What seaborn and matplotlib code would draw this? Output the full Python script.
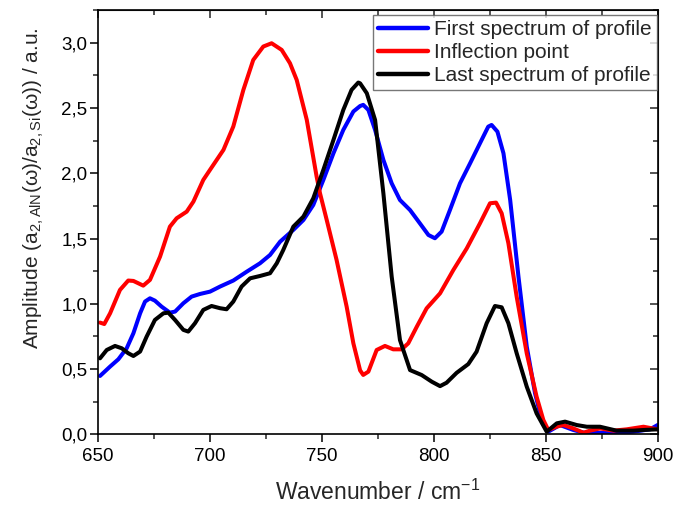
import numpy as np
import pandas as pd
import seaborn as sns
import matplotlib
matplotlib.use("Agg")
import matplotlib.pyplot as plt
from matplotlib.ticker import MultipleLocator, FuncFormatter

# ---- data ----
first_x = [650.9, 655.4, 659.1, 662.8, 665.8, 668.8, 671.0, 673.2, 675.4, 678.4, 682.1, 684.4,
           688.1, 691.8, 695.5, 700.0, 704.5, 710.4, 716.4, 722.3, 726.8, 731.3, 737.2, 741.7,
           746.1, 750.6, 755.1, 759.5, 764.0, 767.0, 768.4, 770.7, 773.7, 777.4, 781.1, 784.8,
           789.3, 793.7, 797.5, 800.4, 803.4, 807.1, 811.6, 816.1, 820.5, 824.2, 825.7, 828.3,
           831.0, 834.0, 837.7, 841.4, 845.1, 848.5, 851.0, 856.2, 862.2, 868.2, 874.1, 881.5,
           889.0, 896.4, 899.8]
first_y = [0.447, 0.519, 0.575, 0.659, 0.774, 0.927, 1.017, 1.042, 1.024, 0.978, 0.932, 0.940,
           1.004, 1.055, 1.075, 1.093, 1.132, 1.178, 1.246, 1.310, 1.374, 1.476, 1.566, 1.642,
           1.757, 1.949, 2.153, 2.332, 2.473, 2.515, 2.524, 2.485, 2.332, 2.102, 1.923, 1.795,
           1.718, 1.616, 1.527, 1.502, 1.553, 1.718, 1.923, 2.076, 2.229, 2.357, 2.370, 2.319,
           2.153, 1.795, 1.208, 0.672, 0.314, 0.084, 0.020, 0.071, 0.033, 0.007, 0.012, 0.007,
           0.020, 0.038, 0.071]

infl_x = [650.9, 652.8, 655.4, 659.8, 663.5, 665.8, 670.2, 673.2, 677.7, 682.1, 685.1, 689.6,
          692.6, 697.0, 700.0, 706.0, 710.4, 714.9, 719.3, 723.8, 727.5, 732.0, 735.7, 738.7,
          743.2, 747.6, 749.1, 752.1, 756.5, 761.0, 764.0, 767.0, 768.4, 770.7, 774.4, 778.1,
          781.8, 785.6, 788.5, 792.3, 796.7, 802.7, 808.6, 814.6, 820.5, 825.0, 827.7, 830.2,
          833.2, 836.9, 841.4, 845.8, 848.8, 851.0, 854.8, 857.7, 862.2, 866.7, 869.6, 874.1,
          880.1, 886.0, 893.5, 899.8]
infl_y = [0.856, 0.845, 0.927, 1.106, 1.178, 1.175, 1.139, 1.183, 1.361, 1.591, 1.655, 1.706,
          1.783, 1.949, 2.026, 2.179, 2.358, 2.639, 2.868, 2.971, 2.996, 2.945, 2.843, 2.715,
          2.409, 1.974, 1.847, 1.642, 1.336, 0.978, 0.697, 0.490, 0.455, 0.480, 0.646, 0.677,
          0.651, 0.651, 0.697, 0.824, 0.965, 1.080, 1.258, 1.424, 1.616, 1.770, 1.775, 1.693,
          1.464, 1.054, 0.620, 0.288, 0.110, 0.033, 0.059, 0.071, 0.045, 0.012, 0.028, 0.045,
          0.028, 0.038, 0.058, 0.038]

last_x = [650.9, 653.9, 657.6, 660.6, 663.5, 665.8, 668.8, 671.7, 675.4, 679.2, 681.4, 684.4,
          688.1, 690.3, 693.3, 697.0, 700.7, 704.5, 707.4, 710.4, 714.1, 717.9, 722.3, 726.8,
          729.8, 732.7, 737.2, 741.7, 746.1, 750.6, 755.1, 759.5, 763.2, 766.2, 767.0, 770.0,
          773.7, 777.4, 781.1, 784.8, 789.3, 794.5, 799.0, 802.7, 805.6, 810.1, 815.3, 819.0,
          823.5, 827.2, 830.2, 833.2, 836.9, 841.4, 845.8, 850.3, 854.8, 858.5, 863.7, 868.2,
          874.1, 881.5, 889.0, 893.5, 899.8]
last_y = [0.582, 0.646, 0.677, 0.659, 0.621, 0.600, 0.634, 0.748, 0.876, 0.927, 0.932, 0.876,
          0.800, 0.787, 0.851, 0.953, 0.983, 0.966, 0.958, 1.017, 1.132, 1.195, 1.213, 1.234,
          1.310, 1.412, 1.591, 1.668, 1.808, 2.026, 2.255, 2.485, 2.639, 2.695, 2.689, 2.613,
          2.408, 1.846, 1.208, 0.722, 0.492, 0.454, 0.403, 0.369, 0.395, 0.471, 0.538, 0.633,
          0.851, 0.983, 0.973, 0.851, 0.621, 0.365, 0.160, 0.020, 0.084, 0.097, 0.071, 0.058,
          0.058, 0.028, 0.028, 0.033, 0.038]

series_names = ["First spectrum of profile", "Inflection point", "Last spectrum of profile"]
series_colors = ["#0000ff", "#ff0000", "#000000"]
x_ticks = [650, 700, 750, 800, 850, 900]
y_ticks = [0.0, 0.5, 1.0, 1.5, 2.0, 2.5, 3.0]

df = pd.concat([
    pd.DataFrame({"x": first_x, "y": first_y, "series": series_names[0]}),
    pd.DataFrame({"x": infl_x, "y": infl_y, "series": series_names[1]}),
    pd.DataFrame({"x": last_x, "y": last_y, "series": series_names[2]}),
], ignore_index=True)

sns.set_style("ticks")
plt.rcParams["font.family"] = ["Liberation Sans", "DejaVu Sans"]
plt.rcParams["mathtext.fontset"] = "custom"
plt.rcParams["mathtext.rm"] = "Liberation Sans"
plt.rcParams["mathtext.it"] = "Liberation Sans:italic"

fig = plt.figure(figsize=(6.74, 5.05), dpi=100)
ax = fig.add_axes([0.1454, 0.14, 0.8309, 0.84])

sns.lineplot(data=df, x="x", y="y", hue="series", hue_order=series_names,
             palette=dict(zip(series_names, series_colors)), sort=False,
             linewidth=2.9, ax=ax, legend=True)

ax.set_xlim(650, 900)
ax.set_ylim(0, 3.25)
ax.set_xticks(x_ticks)
ax.set_yticks(y_ticks)
ax.xaxis.set_minor_locator(MultipleLocator(25))
ax.yaxis.set_minor_locator(MultipleLocator(0.25))
ax.yaxis.set_major_formatter(FuncFormatter(lambda v, p: f"{v:.1f}".replace(".", ",")))
ax.tick_params(which="major", direction="out", length=5.5, width=1.1, labelsize=13.5, colors="black")
ax.tick_params(which="minor", direction="out", length=3.3, width=1.1)
ax.tick_params(axis="x", which="major", pad=4.5)
ax.tick_params(axis="y", which="major", pad=2)

for s in ax.spines.values():
    s.set_linewidth(1.2)
    s.set_color("black")

# inward ticks on top and right
top = ax.secondary_xaxis("top")
top.set_xticks(x_ticks)
top.xaxis.set_minor_locator(MultipleLocator(25))
top.tick_params(which="major", direction="in", length=5.5, width=1.1, labeltop=False)
top.tick_params(which="minor", direction="in", length=3.3, width=1.1)
right = ax.secondary_yaxis("right")
right.set_yticks(y_ticks)
right.yaxis.set_minor_locator(MultipleLocator(0.25))
right.tick_params(which="major", direction="in", length=5.5, width=1.1, labelright=False)
right.tick_params(which="minor", direction="in", length=3.3, width=1.1)

ax.set_xlabel(r"Wavenumber / cm$^{\mathregular{-1}}$", fontsize=16.5)
ax.set_ylabel(r"Amplitude (a$_{\mathregular{2,AlN}}$($\mathregular{\omega}$)/a$_{\mathregular{2,Si}}$($\mathregular{\omega}$)) / a.u.",
              fontsize=15)
ax.xaxis.set_label_coords(0.5, -0.108)
ax.yaxis.set_label_coords(-0.092, 0.579)

leg = ax.legend(loc="upper right", bbox_to_anchor=(0.998, 0.988), fontsize=15,
                frameon=True, fancybox=False, edgecolor="#555555",
                handlelength=2.4, handletextpad=0.3, borderpad=0.25,
                labelspacing=0.18, borderaxespad=0.0, title=None)
leg.get_frame().set_linewidth(1.0)
for line in leg.get_lines():
    line.set_linewidth(3.2)

fig.savefig("out.png", dpi=100)
